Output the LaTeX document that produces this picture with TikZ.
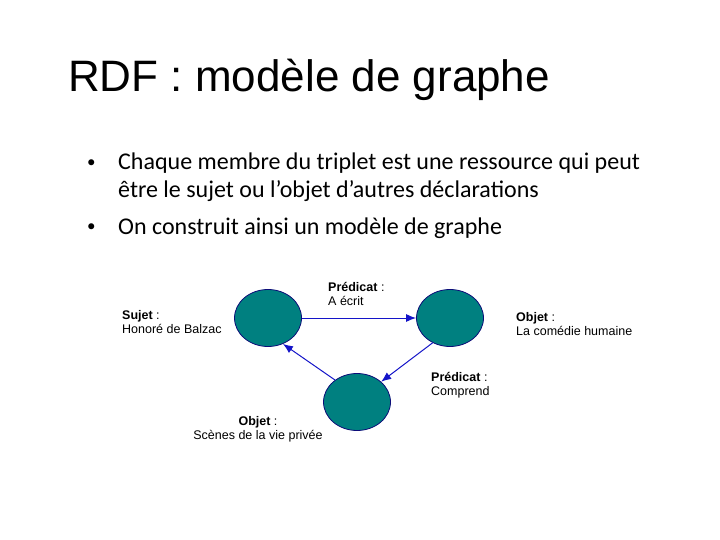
\documentclass[tikz,border=0pt]{standalone}
\usepackage{fontspec}
\setmainfont{Liberation Sans}
\newfontfamily\carlitofont{Carlito}
\usetikzlibrary{arrows.meta,shapes.geometric}
\definecolor{teal1}{RGB}{0,128,128}
\definecolor{arr}{RGB}{20,20,200}
\begin{document}
\begin{tikzpicture}[x=1pt,y=-1pt,
  res/.style={ellipse,draw=arr!60!black,fill=teal1,minimum width=67pt,minimum height=57pt,inner sep=0pt,line width=0.8pt},
  link/.style={draw=arr,line width=1pt,-{Latex[length=10pt,width=8pt]}},
  lab/.style={font=\fontsize{12.5}{14}\selectfont,align=left,inner sep=0pt,anchor=north west},
  bul/.style={font=\carlitofont\fontsize{24}{28}\selectfont,anchor=base west,inner sep=0pt}]
\useasboundingbox (0,0) rectangle (720,540);
\node[anchor=base west,inner sep=0pt,font=\fontsize{44}{48}\selectfont] (title) at (68,92) {RDF : modèle de graphe};
\node[bul,font=\carlitofont\fontsize{17}{20}\selectfont] (b1) at (87,168) {•};
\node[bul] (t1) at (118,170) {Chaque membre du triplet est une ressource qui peut};
\node[bul] (t1b) at (118,198) {être le sujet ou l’objet d’autres déclarations};
\node[bul,font=\carlitofont\fontsize{17}{20}\selectfont] (b2) at (87,232) {•};
\node[bul] (t2) at (118,234) {On construit ainsi un modèle de graphe};
\node[res] (s) at (268,318) {};
\node[res] (o1) at (450,318) {};
\node[res] (o2) at (357,402) {};
\draw[link] (s) -- (o1);
\draw[link] (o1.-125) -- (o2.40);
\draw[link] (o2.135) -- (s.-60);
\node[lab] (ls) at (122,310) {\textbf{Sujet} :\\Honoré de Balzac};
\node[lab] (lp1) at (328,282) {\textbf{Prédicat} :\\A écrit};
\node[lab] (lo1) at (516,312) {\textbf{Objet} :\\La comédie humaine};
\node[lab] (lp2) at (431,372) {\textbf{Prédicat} :\\Comprend};
\node[lab,align=center,anchor=north] (lo2) at (258,416) {\textbf{Objet} :\\Scènes de la vie privée};
\end{tikzpicture}
\end{document}
